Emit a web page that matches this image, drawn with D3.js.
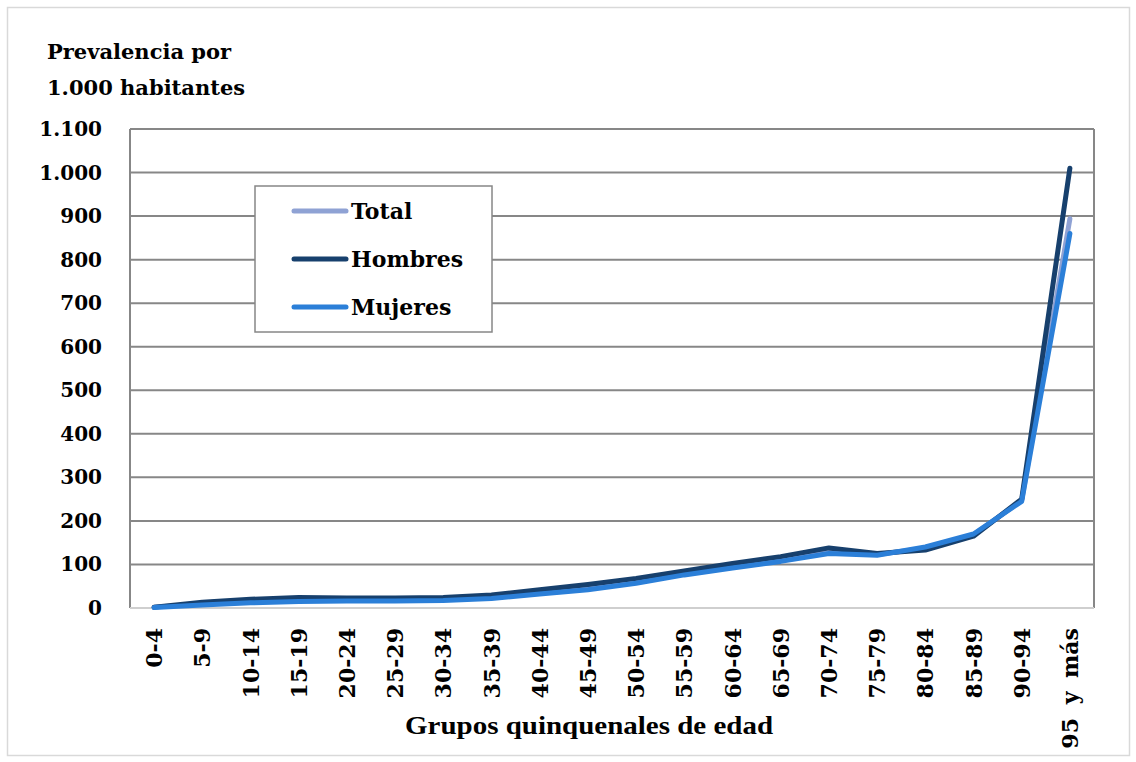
<!DOCTYPE html>
<html>
<head>
<meta charset="utf-8">
<script src="https://cdn.jsdelivr.net/npm/d3@7.9.0/dist/d3.min.js"></script>
<style>
  body { margin: 0; background: #fff; }
  svg text { font-family: "DejaVu Serif", "Liberation Serif", serif; font-weight: bold; fill: #000; }
</style>
</head>
<body>
<svg width="1136" height="762"></svg>
<script>
const ageGroups = ['0-4', '5-9', '10-14', '15-19', '20-24', '25-29', '30-34', '35-39', '40-44', '45-49',
  '50-54', '55-59', '60-64', '65-69', '70-74', '75-79', '80-84', '85-89', '90-94', '95 y más'];
const total = [2, 10, 16, 20, 19, 20, 20, 26, 37, 48, 62, 80, 97, 112, 131, 123, 137, 168, 247, 894];
const hombres = [2, 13, 20, 24, 23, 23, 24, 30, 42, 54, 68, 85, 102, 118, 138, 125, 133, 165, 250, 1010];
const mujeres = [1, 7, 12, 15, 16, 16, 17, 22, 32, 42, 57, 76, 92, 107, 125, 121, 140, 170, 245, 860];
const yTicks = [0, 100, 200, 300, 400, 500, 600, 700, 800, 900, 1000, 1100];

const series = [
  { name: 'Total', values: total, color: '#8fa2d4' },
  { name: 'Hombres', values: hombres, color: '#17406d' },
  { name: 'Mujeres', values: mujeres, color: '#2b7fd8' }
];

const svg = d3.select('svg');
const plot = { left: 130, right: 1094, top: 129, bottom: 608 };

// outer frame
svg.append('rect')
  .attr('x', 7.5).attr('y', 7.5).attr('width', 1122).attr('height', 748)
  .attr('fill', 'none').attr('stroke', '#d9d9d9').attr('stroke-width', 1.5);

const x = d3.scaleBand().domain(ageGroups).range([plot.left, plot.right]);
const y = d3.scaleLinear().domain([0, 1100]).range([plot.bottom, plot.top]);

const fmt = v => d3.format(',')(v).replace(/,/g, '.');

// grid lines
svg.append('g').selectAll('line')
  .data(yTicks.filter(d => d > 0))
  .join('line')
  .attr('x1', plot.left).attr('x2', plot.right)
  .attr('y1', d => y(d)).attr('y2', d => y(d))
  .attr('stroke', '#878787').attr('stroke-width', 2);

// plot border
svg.append('line').attr('x1', plot.left).attr('x2', plot.left)
  .attr('y1', plot.top).attr('y2', plot.bottom).attr('stroke', '#878787').attr('stroke-width', 2);
svg.append('line').attr('x1', plot.right).attr('x2', plot.right)
  .attr('y1', plot.top).attr('y2', plot.bottom).attr('stroke', '#878787').attr('stroke-width', 2);
svg.append('line').attr('x1', plot.left).attr('x2', plot.right)
  .attr('y1', plot.bottom).attr('y2', plot.bottom).attr('stroke', '#cfcfcf').attr('stroke-width', 2);

// y tick labels
svg.append('g').selectAll('text')
  .data(yTicks)
  .join('text')
  .attr('x', 102).attr('y', d => y(d))
  .attr('dy', '0.35em')
  .attr('text-anchor', 'end')
  .style('font-size', '20px')
  .text(fmt);

// y title
svg.append('text').attr('x', 47).attr('y', 59).style('font-size', '21px').text('Prevalencia por');
svg.append('text').attr('x', 47).attr('y', 95).style('font-size', '21px').text('1.000 habitantes');

// x tick labels
svg.append('g').selectAll('text')
  .data(ageGroups)
  .join('text')
  .attr('transform', d => `translate(${x(d) + x.bandwidth() / 2 + 8},628) rotate(-90)`)
  .attr('text-anchor', 'end')
  .style('font-size', '22px')
  .style('word-spacing', '6px')
  .text(d => d);

// x title
svg.append('text').attr('x', 589).attr('y', 734)
  .attr('text-anchor', 'middle')
  .style('font-family', '"Liberation Serif", serif')
  .style('font-size', '26px')
  .attr('textLength', 368).attr('lengthAdjust', 'spacingAndGlyphs')
  .text('Grupos quinquenales de edad');

// lines
const line = d3.line()
  .x((d, i) => x(ageGroups[i]) + x.bandwidth() / 2)
  .y(d => y(d));

svg.append('g').selectAll('path')
  .data(series)
  .join('path')
  .attr('d', d => line(d.values))
  .attr('fill', 'none')
  .attr('stroke', d => d.color)
  .attr('stroke-width', 5)
  .attr('stroke-linecap', 'round')
  .attr('stroke-linejoin', 'round');

// legend
const legend = svg.append('g');
legend.append('rect')
  .attr('x', 255).attr('y', 186).attr('width', 237).attr('height', 146)
  .attr('fill', '#fff').attr('stroke', '#878787').attr('stroke-width', 1.5);

const items = legend.selectAll('g.item')
  .data(series)
  .join('g')
  .attr('class', 'item')
  .attr('transform', (d, i) => `translate(0,${211 + i * 48})`);

items.append('line')
  .attr('x1', 294).attr('x2', 346)
  .attr('stroke', d => d.color).attr('stroke-width', 5).attr('stroke-linecap', 'round');

items.append('text')
  .attr('x', 351).attr('dy', '0.35em')
  .style('font-size', '22px')
  .text(d => d.name);
</script>
</body>
</html>
